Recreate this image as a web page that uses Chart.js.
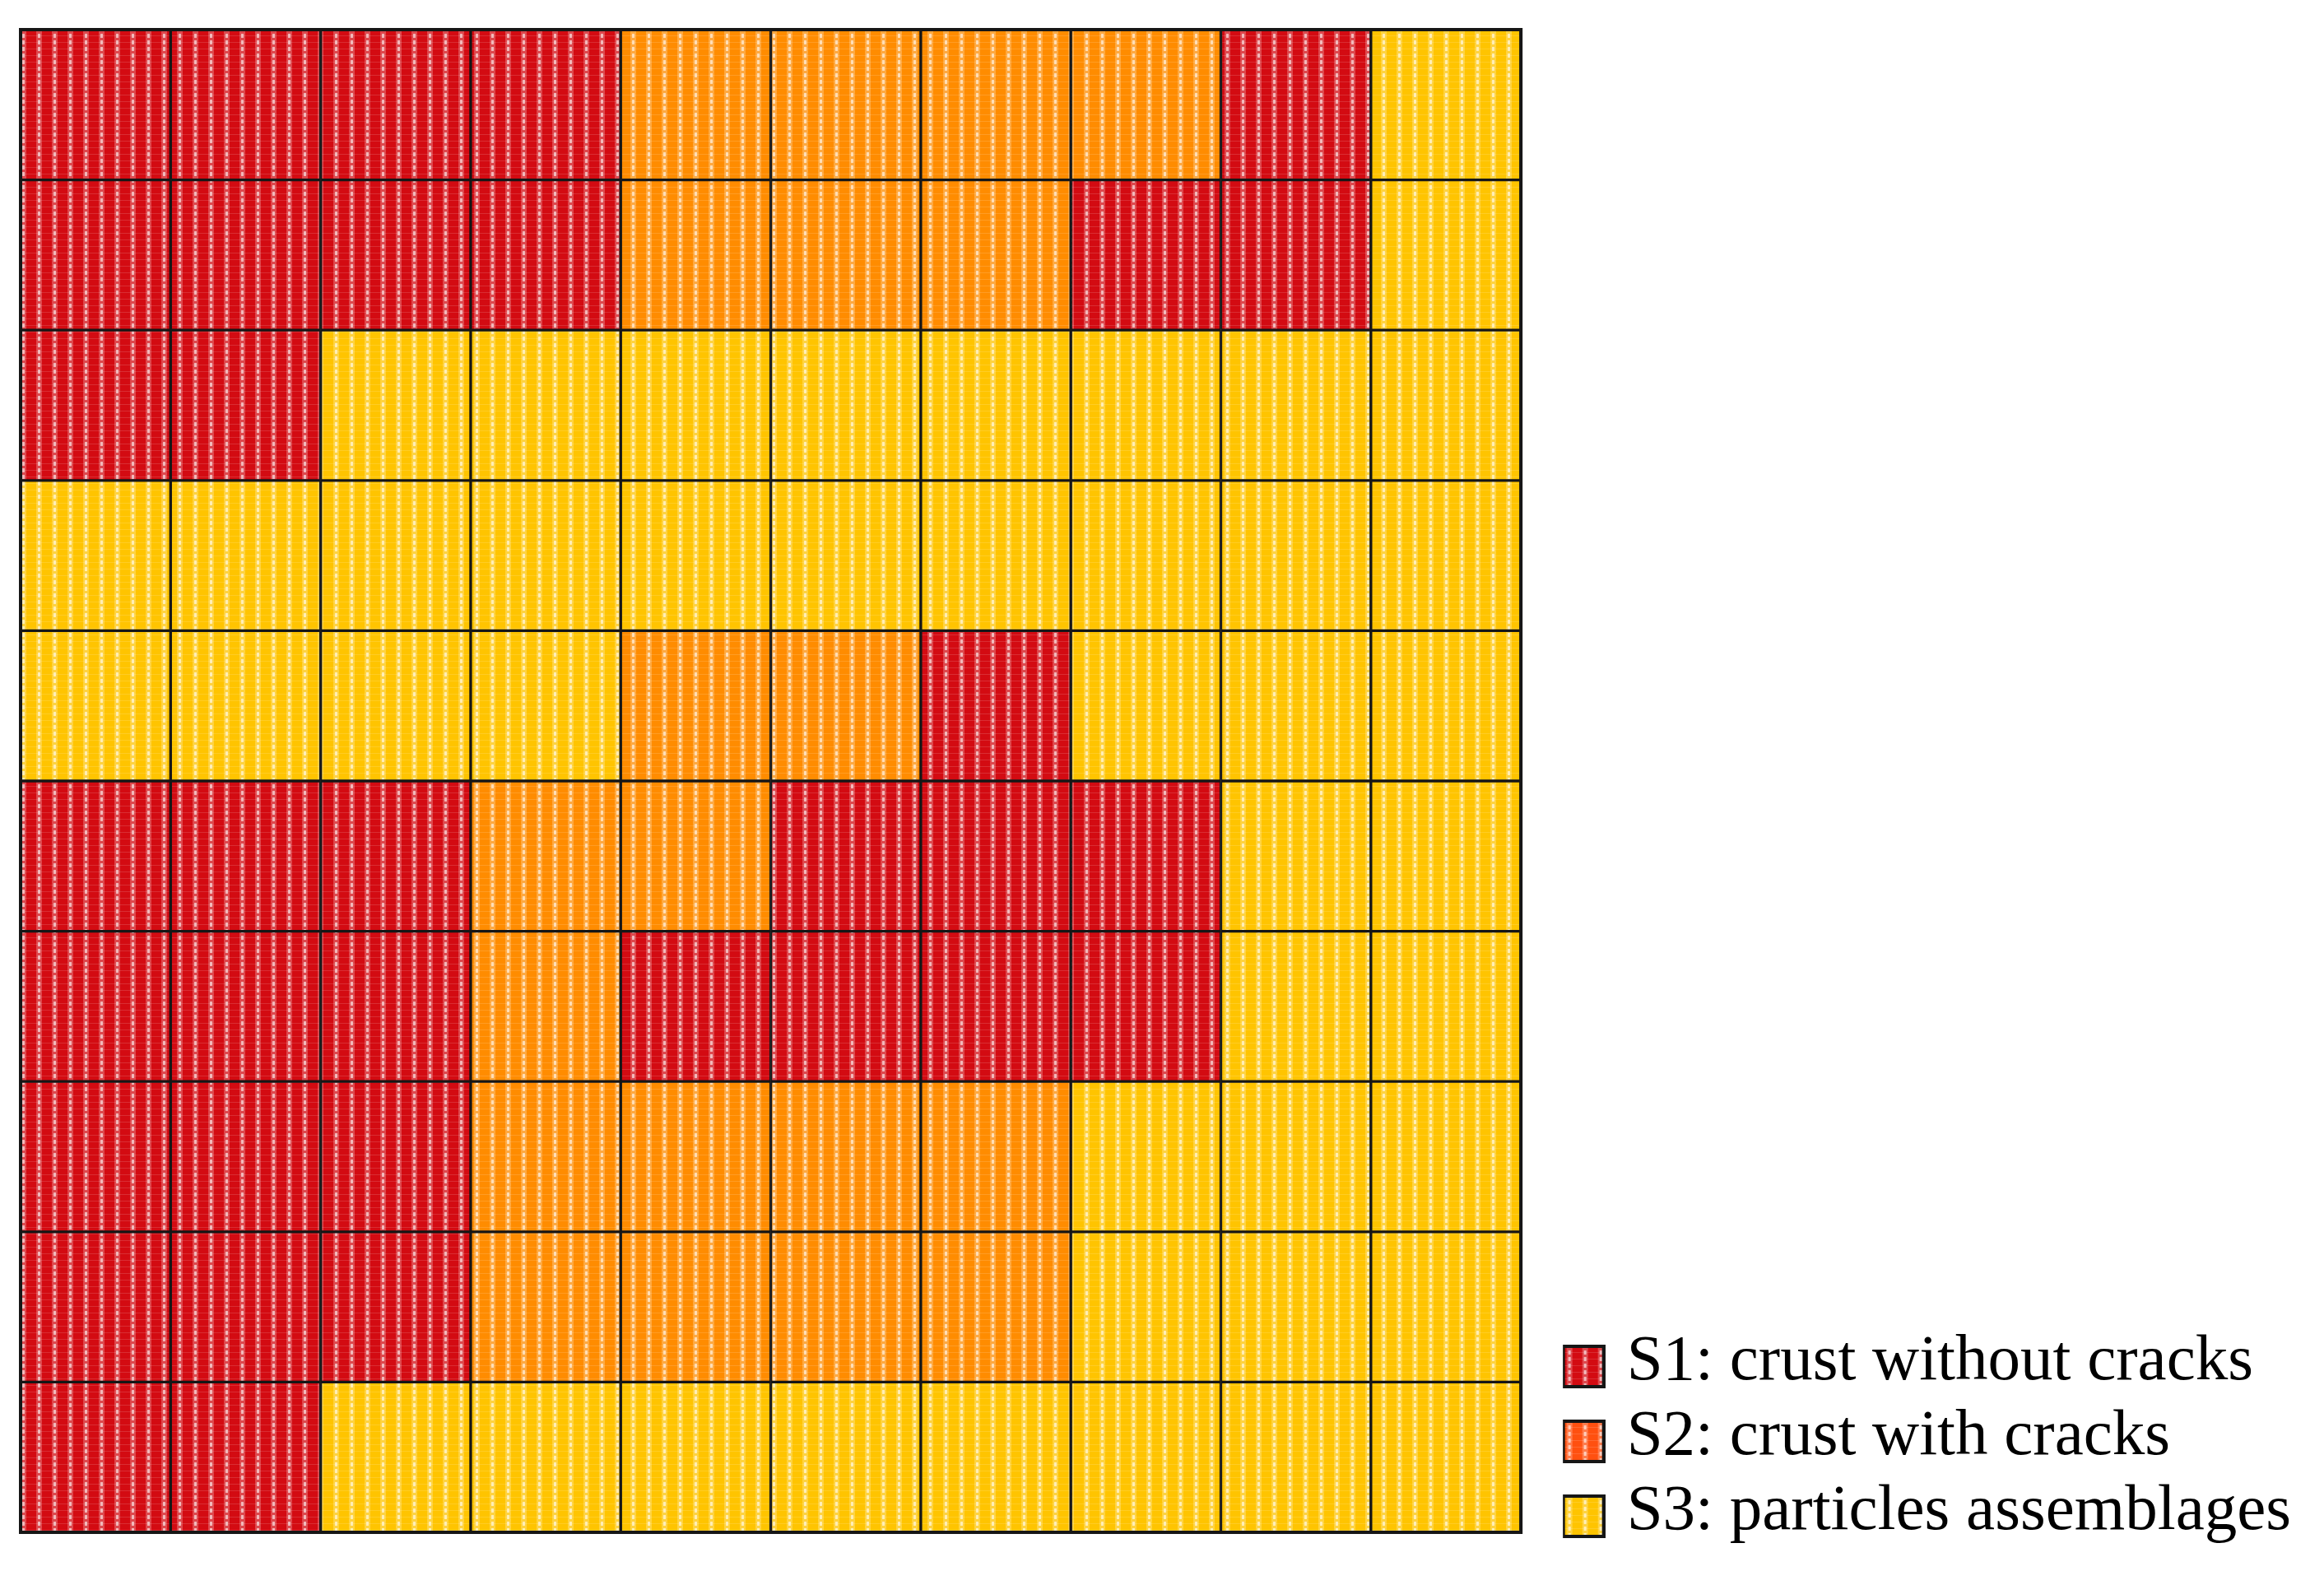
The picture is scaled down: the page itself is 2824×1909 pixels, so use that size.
<!DOCTYPE html>
<html>
<head>
<meta charset="utf-8">
<script src="https://cdn.jsdelivr.net/npm/chart.js@4.4.1/dist/chart.umd.min.js"></script>
<style>
  body { margin: 0; background: #fff; }
  #wrap { width: 2824px; height: 1909px; }
</style>
</head>
<body>
<div id="wrap"><canvas id="grid_chart"></canvas></div>
<script>
// 10 x 10 map of surface states, top row first (1 = S1, 2 = S2, 3 = S3)
const columns = ['1', '2', '3', '4', '5', '6', '7', '8', '9', '10'];
const rowNames = ['A', 'B', 'C', 'D', 'E', 'F', 'G', 'H', 'I', 'J'];
const cellClass = [
    [1, 1, 1, 1, 2, 2, 2, 2, 1, 3],
    [1, 1, 1, 1, 2, 2, 2, 1, 1, 3],
    [1, 1, 3, 3, 3, 3, 3, 3, 3, 3],
    [3, 3, 3, 3, 3, 3, 3, 3, 3, 3],
    [3, 3, 3, 3, 2, 2, 1, 3, 3, 3],
    [1, 1, 1, 2, 2, 1, 1, 1, 3, 3],
    [1, 1, 1, 2, 1, 1, 1, 1, 3, 3],
    [1, 1, 1, 2, 2, 2, 2, 3, 3, 3],
    [1, 1, 1, 2, 2, 2, 2, 3, 3, 3],
    [1, 1, 3, 3, 3, 3, 3, 3, 3, 3]
];
const legendLabels = ['S1: crust without cracks', 'S2: crust with cracks', 'S3: particles assemblages'];

const cellColors = { 1: '#d30b12', 2: '#ff8c00', 3: '#ffc400' };
const legendColors = { 1: '#d30b12', 2: '#ff5010', 3: '#ffc400' };

const canvas = document.getElementById('grid_chart');
const ctx = canvas.getContext('2d');

// fine woven texture seen in the cells
function makePattern(target, color) {
    const tile = document.createElement('canvas');
    tile.width = 19;
    tile.height = 8;
    const t = tile.getContext('2d');
    t.fillStyle = color;
    t.fillRect(0, 0, 19, 8);
    t.fillStyle = 'rgba(255,255,255,0.25)';
    t.fillRect(6, 0, 7, 8);
    t.fillStyle = 'rgba(255,255,255,0.6)';
    t.fillRect(8, 1, 3, 5);
    t.fillStyle = 'rgba(255,255,255,0.14)';
    t.fillRect(0, 3, 19, 1);
    return target.createPattern(tile, 'repeat');
}

// legend marker: textured square, sitting a little below the text middle
function makeMarker(color) {
    const m = document.createElement('canvas');
    m.width = 53;
    m.height = 63;
    const c = m.getContext('2d');
    c.fillStyle = makePattern(c, color);
    c.fillRect(2, 12, 49, 49);
    c.strokeStyle = '#161616';
    c.lineWidth = 4;
    c.strokeRect(2, 12, 49, 49);
    return m;
}

const cellPatterns = {};
const legendMarkers = {};
Object.keys(cellColors).forEach((k) => {
    cellPatterns[k] = makePattern(ctx, cellColors[k]);
    legendMarkers[k] = makeMarker(legendColors[k]);
});

// stacked bars: dataset 0 is the bottom row
const datasets = cellClass.slice().reverse().map((row, i) => {
    return {
        label: rowNames[rowNames.length - 1 - i],
        data: row.map(() => 1),
        backgroundColor: row.map((c) => cellPatterns[c]),
        borderColor: '#161616',
        borderWidth: 2,
        borderSkipped: false,
        barPercentage: 1,
        categoryPercentage: 1
    };
});

const frame = {
    id: 'frame',
    afterDatasetsDraw(chart) {
        const a = chart.chartArea;
        const c = chart.ctx;
        c.save();
        c.strokeStyle = '#161616';
        c.lineWidth = 4;
        c.strokeRect(a.left, a.top, a.right - a.left, a.bottom - a.top);
        c.restore();
    }
};

const chart = new Chart(canvas, {
    type: 'bar',
    data: { labels: columns, datasets: datasets },
    options: {
        responsive: true,
        maintainAspectRatio: false,
        animation: false,
        layout: { padding: { left: 25, top: 36, right: 30, bottom: 20 } },
        scales: {
            x: {
                stacked: true,
                grid: { display: false },
                border: { display: false },
                ticks: { display: false },
                afterFit(scale) { scale.height = 27; }
            },
            y: {
                stacked: true,
                position: 'right',
                min: 0,
                max: 10,
                grid: { display: false },
                border: { display: false },
                ticks: { display: false },
                afterFit(scale) { scale.width = 51; }
            }
        },
        plugins: {
            tooltip: { enabled: false },
            legend: {
                position: 'right',
                align: 'end',
                maxWidth: 1200,
                onClick: null,
                labels: {
                    usePointStyle: true,
                    boxWidth: 26,
                    padding: 12,
                    color: '#111',
                    font: { family: '"Liberation Serif", serif', size: 79 },
                    generateLabels() {
                        return legendLabels.map((text, i) => ({
                            text: text,
                            pointStyle: legendMarkers[i + 1],
                            fillStyle: legendColors[i + 1],
                            strokeStyle: '#161616',
                            lineWidth: 0,
                            hidden: false,
                            datasetIndex: i
                        }));
                    }
                }
            }
        }
    },
    plugins: [frame]
});
</script>
</body>
</html>
